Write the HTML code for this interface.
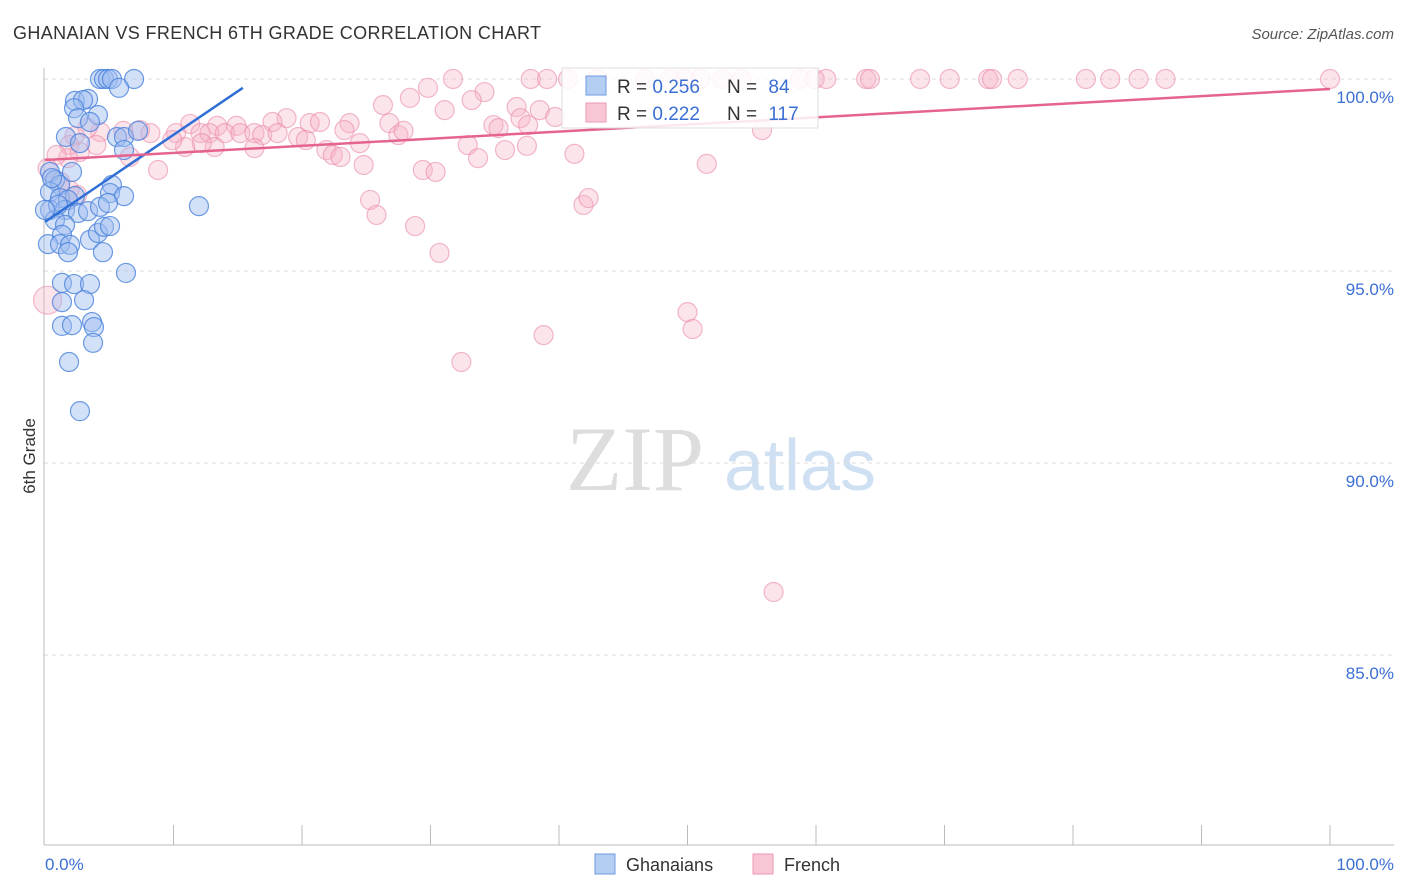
<!DOCTYPE html>
<html><head><meta charset="utf-8"><style>
body{margin:0;background:#fff;font-family:"Liberation Sans",sans-serif;}
svg{display:block}
</style></head><body>
<svg id="chart" width="1406" height="892" viewBox="0 0 1406 892">
<text x="13" y="39" font-size="18" fill="#333" textLength="528">GHANAIAN VS FRENCH 6TH GRADE CORRELATION CHART</text>
<text x="1394" y="39" font-size="15" fill="#555" font-style="italic" text-anchor="end">Source: ZipAtlas.com</text>
<g>
<text x="635" y="490" font-size="92" fill="#ddd" font-family="Liberation Serif,serif" text-anchor="middle">ZIP</text>
<text x="800" y="490" font-size="72" fill="#cfe0f3" text-anchor="middle">atlas</text>
</g>
<g id="grid"></g>
<line x1="44" y1="68" x2="44" y2="845" stroke="#bbb"/>
<line x1="44" y1="845" x2="1394" y2="845" stroke="#bbb"/>
<text x="35" y="456" font-size="17" fill="#333" transform="rotate(-90 35 456)" text-anchor="middle">6th Grade</text>
<text x="45" y="870" font-size="17" fill="#3b6fd4" text-anchor="start">0.0%</text>
<text x="1394" y="870" font-size="17" fill="#3b6fd4" text-anchor="end">100.0%</text>
<g id="dots"></g>
<g id="lines"></g>
<g>
<rect x="562" y="68" width="256" height="60" fill="#fff" fill-opacity="0.85" stroke="#ddd"/>
<rect x="586" y="76" width="20" height="19" fill="#b4cdf3" stroke="#6e9be0"/>
<rect x="586" y="103" width="20" height="19" fill="#f9c6d5" stroke="#eb9ab2"/>
<text x="617" y="93" font-size="19" fill="#333">R = <tspan fill="#3b6fd4">0.256</tspan></text>
<text x="727" y="93" font-size="19" fill="#333">N = <tspan fill="#3b6fd4" dx="6">84</tspan></text>
<text x="617" y="120" font-size="19" fill="#333">R = <tspan fill="#3b6fd4">0.222</tspan></text>
<text x="727" y="120" font-size="19" fill="#333">N = <tspan fill="#3b6fd4" dx="6">117</tspan></text>
</g>
<g>
<rect x="595" y="854" width="20" height="20" fill="#b4cdf3" stroke="#6e9be0"/>
<text x="626" y="871" font-size="18" fill="#333">Ghanaians</text>
<rect x="753" y="854" width="20" height="20" fill="#f9c6d5" stroke="#eb9ab2"/>
<text x="784" y="871" font-size="18" fill="#333">French</text>
</g>
</svg>
<script>
const yTicks=[100,95,90,85];
const yTickLabels=["100.0%","95.0%","90.0%","85.0%"];
const xTicks=[10,20,30,40,50,60,70,80,90,100];
const blueX=[4.28,4.59,4.9,5.21,6.93,5.76,2.33,3.35,2.96,4.12,2.26,2.57,3.5,1.63,2.72,5.6,6.15,6.15,7.24,0.39,0.78,1.17,2.1,0.39,1.17,2.33,1.79,5.21,5.06,6.15,0.39,1.56,2.57,3.35,4.28,4.9,0.78,1.56,1.32,0.23,1.17,1.95,1.79,3.5,4.12,4.59,5.06,4.51,6.3,11.98,1.32,2.26,3.5,1.32,3.04,1.32,2.1,3.66,3.81,3.74,1.87,2.72,0.54,1.01,0.0];
const blueY=[100,100,100,100,100,99.77,99.43,99.48,99.45,99.06,99.24,98.98,98.88,98.49,98.33,98.49,98.49,98.15,98.65,97.58,97.37,97.24,97.58,97.06,96.9,96.95,96.85,97.24,97.03,96.95,96.59,96.59,96.51,96.56,96.67,96.77,96.33,96.2,95.94,95.7,95.7,95.68,95.49,95.81,95.99,96.15,96.17,95.49,94.95,96.69,94.69,94.66,94.66,94.19,94.24,93.57,93.59,93.67,93.54,93.13,92.63,91.35,97.42,96.72,96.59];
const pinkX=[31.75,37.8,39.07,40.7,46.69,48.6,52.7,54.2,58.75,59.9,60.8,63.9,64.2,68.1,70.4,73.4,73.7,75.7,81.0,82.9,85.1,87.2,100,43.0,49.8,51.0,29.8,34.2,26.3,28.4,33.2,36.7,31.1,38.5,39.7,37.0,20.6,21.4,23.7,26.8,34.9,35.3,37.6,18.8,17.7,14.9,13.4,11.3,10.2,7.4,6.1,4.3,3.3,2.3,1.9,2.7,6.6,8.8,12.1,12.8,14.0,15.2,16.3,16.9,18.1,19.7,20.3,23.3,27.5,27.9,24.5,21.9,22.4,23.0,24.8,16.3,13.2,12.2,10.9,9.9,8.2,4.0,1.8,0.9,0.2,1.2,1.9,2.5,29.4,30.4,32.9,33.7,35.8,37.5,41.2,51.5,55.8,25.3,25.8,28.8,30.7,41.9,42.3,32.4,38.8,50.0,50.4,56.7,0.2];
const pinkY=[100,100,100,100,100,100,100,100,100,100,100,100,100,100,100,100,100,100,100,100,100,100,100,100,100,100,99.77,99.66,99.32,99.51,99.45,99.27,99.19,99.19,99.01,98.98,98.85,98.88,98.85,98.85,98.8,98.72,98.8,98.98,98.88,98.78,98.78,98.83,98.59,98.67,98.65,98.62,98.72,98.52,98.28,98.1,97.97,97.63,98.59,98.59,98.59,98.59,98.59,98.54,98.59,98.49,98.41,98.67,98.54,98.65,98.33,98.15,98.02,97.97,97.76,98.2,98.23,98.33,98.23,98.41,98.59,98.28,97.94,98.02,97.68,97.32,97.11,96.98,97.63,97.58,98.28,97.94,98.15,98.26,98.05,97.79,98.67,96.85,96.46,96.17,95.47,96.72,96.9,92.63,93.33,93.93,93.49,86.64,94.24];
const blueTrend=[[0,96.28],[15.4,99.77]];
const pinkTrend=[[0,97.89],[100,99.74]];

const NS="http://www.w3.org/2000/svg";
const xs=v=>45+v*12.85;
const ys=v=>79+(100-v)*38.4;
function mk(tag,attrs,parent){const e=document.createElementNS(NS,tag);for(const k in attrs)e.setAttribute(k,attrs[k]);parent.appendChild(e);return e;}
const grid=document.getElementById('grid');
yTicks.forEach((t,i)=>{
  const l=mk('line',{x1:44,x2:1394,y1:ys(t),y2:ys(t),stroke:'#ddd','stroke-dasharray':'4,4'},grid);
  
  
  const tx=mk('text',{x:1394,y:ys(t)+24,'font-size':17,fill:'#3b6fd4','text-anchor':'end'},grid);
  tx.textContent=yTickLabels[i];
  
  
});
xTicks.forEach(t=>{
  const l=mk('line',{x1:xs(t),x2:xs(t),y1:825,y2:845,stroke:'#bbb'},grid);
  
  
});
const dots=document.getElementById('dots');
pinkX.forEach((x,i)=>{
  const r=(i===pinkX.length-1)?14:9.5;
  const c=mk('circle',{cx:xs(x),cy:ys(pinkY[i]),r:r,fill:'#f6b3c7','fill-opacity':0.35,stroke:'#e98aa8','stroke-opacity':0.6,'stroke-width':1.2},dots);
  
  
});
blueX.forEach((x,i)=>{
  const c=mk('circle',{cx:xs(x),cy:ys(blueY[i]),r:9.5,fill:'#9dbdf0','fill-opacity':0.45,stroke:'#4a82dc','stroke-opacity':0.8,'stroke-width':1.2},dots);
  
  
});
const lines=document.getElementById('lines');
const bl=mk('line',{x1:xs(blueTrend[0][0]),y1:ys(blueTrend[0][1]),x2:xs(blueTrend[1][0]),y2:ys(blueTrend[1][1]),stroke:'#2f6fd6','stroke-width':2.5},lines);


const pl=mk('line',{x1:xs(pinkTrend[0][0]),y1:ys(pinkTrend[0][1]),x2:xs(pinkTrend[1][0]),y2:ys(pinkTrend[1][1]),stroke:'#e5648f','stroke-width':2.5},lines);


</script>
</body></html>
